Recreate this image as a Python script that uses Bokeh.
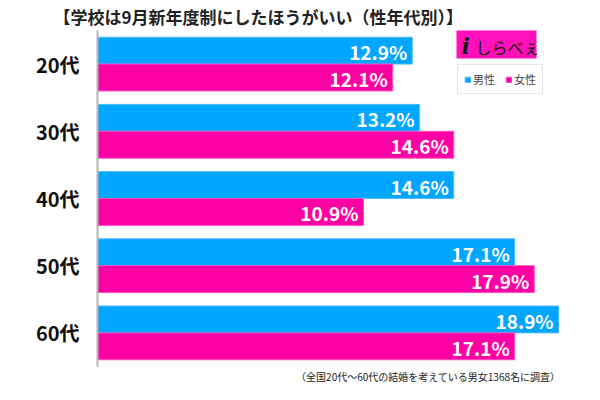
from bokeh.plotting import figure
from bokeh.models import (ColumnDataSource, FactorRange, Range1d, Legend, LegendItem,
                          Label, BoxAnnotation, Title)
from bokeh.transform import dodge
from bokeh.core.properties import value
from bokeh.embed import file_html
from bokeh.resources import INLINE

ages = ["20代", "30代", "40代", "50代", "60代"]
male = [12.9, 13.2, 14.6, 17.1, 18.9]
female = [12.1, 14.6, 10.9, 17.9, 17.1]
title_text = "【学校は9月新年度制にしたほうがいい（性年代別）】"
note_text = "（全国20代～60代の結婚を考えている男女1368名に調査）"
series_labels = ["男性", "女性"]

BLUE = "#00a6ff"
PINK = "#ff00a5"
JP = "Noto Sans CJK JP"

src = ColumnDataSource(dict(
    age=ages, male=male, female=female,
    mlab=[f"{v:.1f}%" for v in male],
    flab=[f"{v:.1f}%" for v in female],
))

p = figure(width=584, height=384, output_backend="svg", toolbar_location=None,
           y_range=FactorRange(*reversed(ages)), x_range=Range1d(0, 19.96),
           min_border_left=97, min_border_top=26, min_border_bottom=14,
           min_border_right=0, outline_line_color=None,
           x_axis_location=None)
p.xgrid.visible = False
p.ygrid.visible = False

p.add_layout(Title(text=title_text, align="left", offset=-44, standoff=3,
                   text_font=JP, text_font_size="17px", text_font_style="bold",
                   text_color="#222222"), "above")
p.add_layout(Title(text=note_text, align="right", offset=24, standoff=1,
                   text_font=JP, text_font_size="10px", text_font_style="normal",
                   text_color="#222222"), "below")

ax = p.yaxis[0]
ax.axis_line_color = "#b5b5b5"
ax.axis_line_width = 2
ax.major_tick_line_color = None
ax.minor_tick_line_color = None
ax.major_label_standoff = 12
ax.major_label_text_font = JP
ax.major_label_text_font_size = "20px"
ax.major_label_text_font_style = "bold"
ax.major_label_text_color = "#111111"

rm = p.hbar(y=dodge("age", 0.2, range=p.y_range), right="male", left=0, height=0.4,
            source=src, fill_color=BLUE, line_color="#4dbcff", line_width=1)
rf = p.hbar(y=dodge("age", -0.2, range=p.y_range), right="female", left=0, height=0.4,
            source=src, fill_color=PINK, line_color="#ff4dc0", line_width=1)

p.text(x="male", y=dodge("age", 0.2, range=p.y_range), text="mlab", source=src,
       text_align="right", text_baseline="middle", x_offset=-5, y_offset=1,
       text_color="white", text_font=value(JP), text_font_style="bold",
       text_font_size="19px")
p.text(x="female", y=dodge("age", -0.2, range=p.y_range), text="flab", source=src,
       text_align="right", text_baseline="middle", x_offset=-5, y_offset=1,
       text_color="white", text_font=value(JP), text_font_style="bold",
       text_font_size="19px")

# logo
p.add_layout(BoxAnnotation(left=359, right=439, bottom=308, top=337,
                           left_units="screen", right_units="screen",
                           bottom_units="screen", top_units="screen",
                           fill_color="#ff10b8", fill_alpha=1, line_color=None))
p.add_layout(Label(x=364, y=321, x_units="screen", y_units="screen", text="i",
                   text_font="DejaVu Serif", text_font_style="bold italic",
                   text_font_size="22px", text_color="#111111", text_baseline="middle"))
p.add_layout(Label(x=378, y=320, x_units="screen", y_units="screen", text="しらべぇ",
                   text_font=JP, text_font_size="16px", text_color="#111111",
                   text_baseline="middle"))

legend = Legend(items=[LegendItem(label=series_labels[0], renderers=[rm]),
                       LegendItem(label=series_labels[1], renderers=[rf])],
                location=(360, 272), orientation="horizontal",
                glyph_width=7, glyph_height=7, label_text_font=JP,
                label_text_font_size="11px", label_standoff=2, spacing=10,
                padding=6, margin=0, border_line_color="#cccccc",
                background_fill_alpha=1, label_height=14)
p.add_layout(legend)

open("out.html", "w").write(file_html(p, INLINE))
